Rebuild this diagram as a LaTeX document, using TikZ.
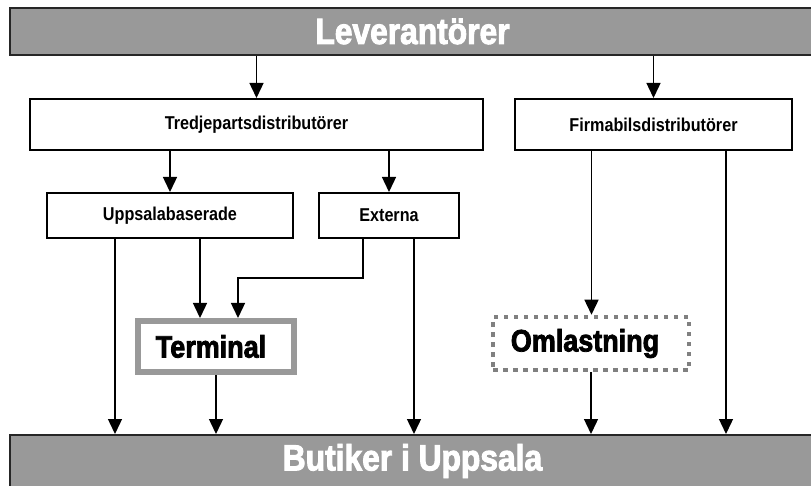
\documentclass[tikz,border=0pt]{standalone}
\usepackage{fontspec}
\setmainfont{Liberation Sans}[FakeStretch=0.87]
\newfontfamily\heavyfont{Liberation Sans}[FakeStretch=0.87,BoldFeatures={FakeBold=2.5}]
\usetikzlibrary{arrows.meta}
\definecolor{bargray}{RGB}{153,153,153}
\definecolor{dotgray}{RGB}{128,128,128}

\begin{document}
\begin{tikzpicture}[x=1pt, y=-1pt,
    bar/.style={draw=black!85, line width=2pt, fill=bargray, text=white, inner sep=0pt,
      font=\heavyfont\bfseries\fontsize{36.5}{40}\selectfont, minimum width=805pt, minimum height=47pt},
    box/.style={draw, line width=2pt, inner sep=0pt,
      font=\bfseries\fontsize{18.6}{20}\selectfont, minimum height=51pt},
    hub/.style={inner sep=0pt, font=\heavyfont\bfseries\fontsize{31}{34}\selectfont},
    flow/.style={-{Triangle[width=14pt,length=15pt]}, line width=1.4pt}]
  \useasboundingbox (0,0) rectangle (811,486);
  \clip (0,0) rectangle (811,486);
  % top and bottom bars
  \node [bar] (lev) at (412.5,31.5) {Leverantörer};
  \node [bar, minimum height=52pt] (but) at (412.5,461) {Butiker i Uppsala};
  % distributors
  \node [box, minimum width=453pt] (tred) at (256.5,124.5) {Tredjepartsdistributörer};
  \node [box, minimum width=277pt] (firma) at (653.5,124.5) {Firmabilsdistributörer};
  \node [box, minimum width=246pt, minimum height=45pt] (upps) at (170,215.5) {Uppsalabaserade};
  \node [box, minimum width=140pt, minimum height=45pt] (ext) at (389,215.5) {Externa};
  % terminal and reloading
  \node [hub, draw=bargray, line width=6pt, minimum width=156pt, minimum height=51pt] (term) at (216,346.5) {Terminal\hspace*{10pt}};
  \node [hub, draw=dotgray, line width=4.5pt, dash pattern=on 4.5pt off 5.5pt,
    minimum width=196pt, minimum height=53pt] (oml) at (591,343.5) {Omlastning\hspace*{12pt}};
  % flows
  \draw [flow] (tred.north |- lev.south) -- (tred.north);
  \draw [flow] (firma.north |- lev.south) -- (firma.north);
  \draw [flow] (upps.north |- tred.south) -- (upps.north);
  \draw [flow] (ext.north |- tred.south) -- (ext.north);
  \draw [flow] ([xshift=-55pt]upps.south) -- ([xshift=-55pt]upps.south |- but.north);
  \draw [flow] ([xshift=30pt]upps.south) -- ([xshift=30pt]upps.south |- term.north);
  \coordinate (bend) at ([xshift=-26pt]ext.south |- 0,278);
  \draw [flow] ([xshift=-26pt]ext.south) -- (bend) -| ([xshift=22pt]term.north);
  \draw [flow] ([xshift=25pt]ext.south) -- ([xshift=25pt]ext.south |- but.north);
  \draw [flow] (term.south) -- (term.south |- but.north);
  \draw [flow] ([xshift=-62pt]firma.south) -- ([xshift=-62pt]firma.south |- oml.north);
  \draw [flow] ([xshift=72.5pt]firma.south) -- ([xshift=72.5pt]firma.south |- but.north);
  \draw [flow] (oml.south) -- (oml.south |- but.north);
\end{tikzpicture}
\end{document}
